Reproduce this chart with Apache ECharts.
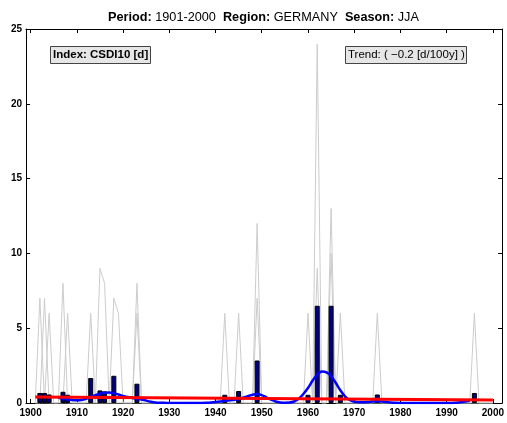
<!DOCTYPE html>
<html>
<head>
<meta charset="utf-8">
<script src="https://cdn.jsdelivr.net/npm/echarts@6/dist/echarts.min.js"></script>
<style>
html,body{margin:0;padding:0;background:#fff;}
#chart{width:507px;height:423px;}
</style>
</head>
<body>
<div id="chart"></div>
<script>
// ---- data ----
var years = [];
for (var y = 1901; y <= 2000; y++) years.push(y);

// grey station lines (1901..2000)
var stationA = [
 0,7,0,0,0,0,8,0,0,0,
 0,0,6,0,9,8,0,7,6,0,
 0,0,8,0,0,0,0,0,0,0,
 0,0,0,0,0,0,0,0,0,0,
 0,6,0,0,0,0,0,0,12,0,
 0,0,0,0,0,0,0,0,0,0,
 0,24,0,0,13,0,0,0,0,0,
 0,0,0,0,6,0,0,0,0,0,
 0,0,0,0,0,0,0,0,0,0,
 0,0,0,0,0,6,0,0,0,0
];
var stationB = [
 0,0,7,0,0,0,0,6,0,0,
 0,0,0,0,0,0,0,0,0,0,
 0,0,6,0,0,0,0,0,0,0,
 0,0,0,0,0,0,0,0,0,0,
 0,0,0,0,6,0,0,0,7,0,
 0,0,0,0,0,0,0,0,0,6,
 0,9,0,0,10,0,6,0,0,0,
 0,0,0,0,0,0,0,0,0,0,
 0,0,0,0,0,0,0,0,0,0,
 0,0,0,0,0,0,0,0,0,0
];
var stationC = [
 0,0,0,6,0,0,0,0,0,0,
 0,0,0,0,0,0,0,0,0,0,
 0,0,0,0,0,0,0,0,0,0,
 0,0,0,0,0,0,0,0,0,0,
 0,0,0,0,0,0,0,0,0,0,
 0,0,0,0,0,0,0,0,0,0,
 0,6,0,0,6,0,0,0,0,0,
 0,0,0,0,0,0,0,0,0,0,
 0,0,0,0,0,0,0,0,0,0,
 0,0,0,0,0,0,0,0,0,0
];

// regional mean (bars)
var barYears  = [1902,1903,1904,1907,1908,1913,1915,1916,1918,1923,1942,1945,1949,1960,1962,1965,1967,1975,1996];
var barValues = [0.67,0.67,0.57,0.75,0.55,1.67,0.84,0.78,1.82,1.29,0.55,0.80,2.84,0.55,6.5,6.5,0.55,0.57,0.67];

// smoothed curve (1906..1995)
var smoothYears = [];
for (var s = 1906; s <= 1995; s++) smoothYears.push(s);
var smoothValues = [
 0.35,0.30,0.25,0.20,0.18,
 0.20,0.28,0.40,0.52,0.62,0.68,0.70,0.66,0.57,0.47,
 0.40,0.34,0.30,0.24,0.16,0.09,0.04,0.02,0.01,0.00,
 0.00,0.00,0.00,0.00,0.00,0.00,0.00,0.01,0.03,0.06,
 0.10,0.15,0.18,0.21,0.27,0.35,0.45,0.55,0.60,0.53,
 0.38,0.22,0.10,0.04,0.02,0.03,0.10,0.28,0.60,1.00,
 1.50,1.90,2.10,2.05,1.80,1.35,0.85,0.45,0.20,0.08,
 0.05,0.05,0.07,0.10,0.12,0.10,0.07,0.03,0.01,0.00,
 0.00,0.00,0.00,0.00,0.00,0.00,0.00,0.00,0.00,0.00,
 0.00,0.02,0.05,0.10,0.15
];

// linear trend
var trendYears  = [1901, 2000];
var trendValues = [0.4, 0.2];

var xTicks = [1900,1910,1920,1930,1940,1950,1960,1970,1980,1990,2000];
var yTicks = [0,5,10,15,20,25];

// ---- build ----
function pairs(xs, vs) { return xs.map(function (x, i) { return [x, vs[i]]; }); }
var FONT = 'Liberation Sans, Arial, Helvetica, sans-serif';

function greyLine(vals) {
  return {
    type: 'line', data: pairs(years, vals), symbol: 'none', silent: true,
    lineStyle: { color: '#cccccc', width: 1 }, z: 1
  };
}

var chart = echarts.init(document.getElementById('chart'), null, { renderer: 'canvas' });
chart.setOption({
  animation: false,
  backgroundColor: '#ffffff',
  textStyle: { fontFamily: FONT },
  title: [
    {
      text: '{b|Period:} 1901-2000  {b|Region:} GERMANY  {b|Season:} JJA',
      left: 103, top: 6,
      textStyle: {
        fontFamily: FONT, fontSize: 12.7, fontWeight: 'normal', color: '#000',
        rich: { b: { fontFamily: FONT, fontSize: 12.7, fontWeight: 'bold', color: '#000' } }
      }
    },
    {
      text: 'Index: CSDI10 [d]',
      left: 50, top: 46, padding: [3, 3, 3, 3],
      backgroundColor: '#e6e6e6', borderColor: '#444', borderWidth: 1,
      textStyle: { fontFamily: FONT, fontSize: 11.5, fontWeight: 'bold', color: '#000' }
    },
    {
      text: 'Trend: ( \u22120.2 [d/100y] )',
      left: 345, top: 46, padding: [3, 2, 3, 3],
      backgroundColor: '#e6e6e6', borderColor: '#444', borderWidth: 1,
      textStyle: { fontFamily: FONT, fontSize: 11.5, fontWeight: 'normal', color: '#000' }
    }
  ],
  grid: { left: 26, right: 4, top: 29, bottom: 20, containLabel: false },
  xAxis: [
    {
      type: 'value', min: 1899, max: 2002, position: 'bottom',
      axisLine: { onZero: false, lineStyle: { color: '#000', width: 1 } },
      axisTick: { inside: true, length: 4, customValues: xTicks, lineStyle: { color: '#000' } },
      axisLabel: {
        customValues: xTicks, margin: 5, fontFamily: FONT, fontSize: 10, fontWeight: 'bold', color: '#000',
        formatter: function (v) { return String(v); }
      },
      splitLine: { show: false }
    },
    {
      type: 'value', min: 1899, max: 2002, position: 'top',
      axisLine: { onZero: false, lineStyle: { color: '#000', width: 1 } },
      axisTick: { inside: true, length: 4, customValues: xTicks, lineStyle: { color: '#000' } },
      axisLabel: { show: false },
      splitLine: { show: false }
    }
  ],
  yAxis: [
    {
      type: 'value', min: 0, max: 25, interval: 5, position: 'left',
      axisLine: { show: true, onZero: false, lineStyle: { color: '#000', width: 1 } },
      axisTick: { show: true, inside: true, length: 4, lineStyle: { color: '#000' } },
      axisLabel: { margin: 4, fontFamily: FONT, fontSize: 10, fontWeight: 'bold', color: '#000' },
      splitLine: { show: false }
    },
    {
      type: 'value', min: 0, max: 25, interval: 5, position: 'right',
      axisLine: { show: true, onZero: false, lineStyle: { color: '#000', width: 1 } },
      axisTick: { show: true, inside: true, length: 4, lineStyle: { color: '#000' } },
      axisLabel: { show: false },
      splitLine: { show: false }
    }
  ],
  series: [
    greyLine(stationA),
    greyLine(stationB),
    greyLine(stationC),
    {
      type: 'bar', data: pairs(barYears, barValues), barWidth: 5, silent: true,
      itemStyle: { color: '#000080', borderColor: '#000', borderWidth: 1 }, z: 3
    },
    {
      type: 'line', data: pairs(smoothYears, smoothValues), symbol: 'none', smooth: 0.3, silent: true,
      lineStyle: { color: '#0000ff', width: 2.5 }, z: 4
    },
    {
      type: 'line', data: pairs(trendYears, trendValues), symbol: 'none', silent: true,
      lineStyle: { color: '#ff0000', width: 3 }, z: 5
    }
  ]
});
</script>
</body>
</html>
